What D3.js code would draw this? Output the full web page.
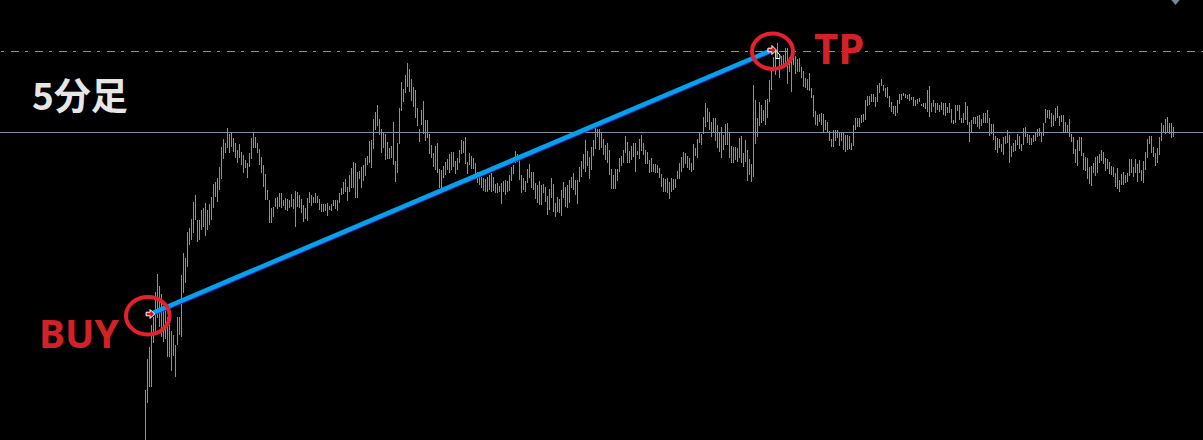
<!DOCTYPE html>
<html>
<head>
<meta charset="utf-8">
<script src="https://cdn.jsdelivr.net/npm/d3@7/dist/d3.min.js"></script>
<style>
  html, body { margin: 0; padding: 0; background: #000; }
  svg { display: block; }
</style>
</head>
<body>
<svg id="chart" width="1203" height="440"></svg>
<script>
// ---- DATA (price in points) ----
const high = [
  // segment 1
  50,81,93,115,123,148,166,154,146,132, 131,123,115,109,105,95,123,123,165,187,
  182,208,212,221,238,245,220,220,230,232, 237,230,236,243,256,258,262,273,293,301,
  297,312,306,307,302,297,290,296,288,285, 280,277,287,302,307,303,297,291,283,275,
  266,250,240,232,233,242,243,247,247,240, 242,241,240,246,241,249,248,245,241,235,
  232,242,248,245,243,247,
  // segment 2
  244,241,236,236,236,237,234,236,240,240, 240,247,252,258,261,253,265,272,278,277,
  268,269,273,275,282,284,299,300,321,328, 335,321,311,308,306,298,292,294,318,279,
  297,332,358,351,365,377,371,361,353,350, 332,311,330,339,320,320,306,295,287,294,
  297,271,270,274,278,281,286,288,288,279, 282,290,300,299,303,278,287,284,282,277,
  268,268,263,262,261,263,
  // segment 3
  265,267,263,256,257,254,257,259,260,259, 265,273,275,289,286,283,265,262,259,271,
  276,268,268,257,255,259,255,256,253,244, 251,262,256,237,243,241,250,258,253,255,
  260,263,267,260,260,273,279,286,300,289, 283,293,300,312,311,311,307,301,295,297,
  290,271,265,271,271,282,284,290,304,298, 289,294,297,297,289,301,305,297,290,288,
  280,282,276,276,275,272,
  // segment 4
  266,262,261,262,258,262,261,261,269,277, 283,288,287,284,282,277,296,292,301,308,
  306,323,337,332,328,318,322,322,315,308, 313,305,316,317,308,294,293,293,292,302,
  304,287,300,290,281,276,355,340,322,338, 335,330,340,341,360,372,383,390,397,381,
  384,385,392,392,383,380,385,384,381,382, 373,369,362,361,367,352,345,329,325,326,
  327,326,320,318,309,301,
  // segment 5
  310,310,310,307,307,307,305,305,304,297, 315,322,322,322,325,326,340,344,344,346,
  346,343,355,357,361,355,352,353,344,338, 334,334,340,346,346,347,346,345,346,343,
  343,340,341,342,336,337,337,350,354,337, 340,337,337,335,338,337,337,333,337,331,
  320,335,335,335,322,327,338,334,318,320, 323,323,324,325,321,327,327,330,322,316,
  316,304,302,301,296,303,
  // segment 6
  304,310,305,294,297,300,306,304,296,312, 313,306,305,302,305,308,311,312,307,317,
  331,330,330,327,325,332,334,324,325,325, 318,315,321,306,303,291,300,303,303,287,
  283,282,273,274,277,283,284,286,290,288, 282,281,278,274,273,267,272,260,266,268,
  265,267,281,281,273,281,276,280,270,279, 288,301,304,304,293,287,292,303,317,315,
  321,323,317,317,313
];
const low = [
  // segment 1
  -10,37,53,53,97,107,122,113,103,98, 101,83,83,69,84,63,95,105,103,147,
  157,173,195,200,207,220,198,200,210,213, 204,210,215,220,232,243,238,250,261,281,
  287,292,287,293,288,282,277,282,275,267, 272,262,273,281,292,292,287,275,267,253,
  240,240,217,217,223,233,231,233,232,234, 230,229,232,233,231,213,233,232,227,218,
  221,219,237,234,237,237,
  // segment 2
  237,230,228,228,229,224,230,229,234,231, 229,237,245,246,248,239,248,252,252,242,
  242,261,252,259,264,275,277,272,291,310, 314,305,287,292,280,281,281,282,275,258,
  267,296,329,338,347,353,348,339,333,322, 314,298,315,306,299,302,286,282,273,270,
  267,252,252,262,265,270,267,270,273,266, 270,277,286,287,276,266,275,271,271,263,
  257,255,252,249,248,248,
  // segment 3
  250,248,249,247,247,248,236,248,245,248, 249,259,266,277,278,260,247,250,248,257,
  262,252,250,241,237,235,235,247,238,225, 230,242,228,223,228,227,224,242,233,232,
  237,252,250,245,236,258,263,271,268,274, 261,270,284,291,303,290,292,285,280,277,
  265,251,251,251,259,268,274,277,287,277, 277,280,283,268,285,281,289,285,276,276,
  267,268,268,267,267,262,
  // segment 4
  253,248,248,247,241,248,250,252,261,261, 268,272,276,272,270,268,270,284,282,297,
  295,306,313,318,310,303,308,299,292,288, 282,290,295,295,282,277,277,280,278,282,
  277,273,278,259,265,258,263,296,303,314, 317,319,315,322,338,350,369,365,382,362,
  372,375,377,356,368,348,375,366,368,368, 362,353,352,350,349,342,323,315,314,318,
  315,308,310,307,299,293,
  // segment 5
  293,299,302,294,299,290,288,290,291,290, 294,310,313,313,317,318,320,334,335,338,
  338,333,338,347,354,349,343,342,333,328, 326,324,327,336,340,344,342,341,339,340,
  334,334,336,338,334,333,331,328,323,328, 333,327,330,328,330,325,324,327,327,317,
  316,317,329,320,317,317,320,315,298,308, 316,316,313,311,314,317,317,317,304,306,
  300,290,287,292,288,285,
  // segment 6
  296,297,277,283,288,289,295,291,289,295, 303,297,295,295,298,299,303,304,298,304,
  317,322,321,313,314,319,322,314,318,307, 307,307,303,298,286,277,274,289,284,270,
  269,261,256,254,267,264,267,277,279,276, 269,271,266,265,263,253,251,248,255,255,
  257,258,264,267,263,267,258,267,259,257, 270,282,296,287,283,274,277,285,299,307,
  306,307,306,302,303
];
const tpLevel = 389;      // dashed take-profit level
const refLevel = 308;     // solid horizontal line
const tradeIndex = [2.4, 313.3];   // BUY bar, TP bar
const tradePrice = [126, 390];
const tradeLabels = ["BUY", "TP"];
const title = "5分足";

// ---- SCALES ----
const W = 1203, H = 440;
const svg = d3.select("#chart");
const x = d3.scaleLinear().domain([0, high.length - 1]).range([145.3, 1173.3]);
const y = d3.scaleLinear().domain([0, 440]).range([440, 0]);

const bars = high.map((h, i) => ({ i, h, l: low[i] }));

// solid reference line
svg.append("line")
  .attr("x1", 0).attr("x2", W)
  .attr("y1", Math.round(y(refLevel)) + 0.5).attr("y2", Math.round(y(refLevel)) + 0.5)
  .attr("stroke", "#7f8fa0").attr("stroke-width", 1);

// dashed TP level
svg.append("line")
  .attr("x1", 0).attr("x2", W)
  .attr("y1", Math.round(y(tpLevel)) + 0.5).attr("y2", Math.round(y(tpLevel)) + 0.5)
  .attr("stroke", "#32cd32").attr("stroke-width", 1)
  .attr("stroke-dasharray", "8,6,3,7").attr("stroke-dashoffset", 13);

// bars
svg.append("g").selectAll("rect").data(bars).join("rect")
  .attr("x", d => Math.floor(x(d.i)))
  .attr("y", d => y(d.h))
  .attr("width", 1)
  .attr("height", d => Math.max(1, y(d.l) - y(d.h)))
  .attr("fill", "#1ee11e")
  .attr("shape-rendering", "crispEdges");

// trade line
const pts = tradeIndex.map((t, k) => [x(t), y(tradePrice[k])]);
svg.append("line")
  .attr("x1", pts[0][0]).attr("y1", pts[0][1] + 2)
  .attr("x2", pts[1][0]).attr("y2", pts[1][1] + 2)
  .attr("stroke", "#1030e0").attr("stroke-width", 2.5);
svg.append("line")
  .attr("x1", pts[0][0]).attr("y1", pts[0][1])
  .attr("x2", pts[1][0]).attr("y2", pts[1][1])
  .attr("stroke", "#08a0e8").attr("stroke-width", 4.5);

// arrows
const arrowPath = "M-4,-1.8 L0,-1.8 L0,-4.5 L4.5,0 L0,4.5 L0,1.8 L-4,1.8 Z";
pts.forEach(p => {
  svg.append("path").attr("d", arrowPath)
    .attr("transform", `translate(${p[0]},${p[1]})`)
    .attr("fill", "#e01010").attr("stroke", "#fff").attr("stroke-width", 1);
});
// close marker near TP
svg.append("path")
  .attr("d", `M${pts[1][0] + 4},${pts[1][1] + 0.5} L${pts[1][0] + 8},${pts[1][1] + 5} L${pts[1][0] + 8},${pts[1][1] + 8.5} L${pts[1][0] + 4},${pts[1][1] + 8.5} Z`)
  .attr("fill", "none").attr("stroke", "#fff").attr("stroke-width", 1);

// circles
const circleOff = [[-2.3, 1.8, 21.8, 18.8], [0.6, 1.3, 20.5, 17.7]];
pts.forEach((p, k) => {
  svg.append("ellipse")
    .attr("cx", p[0] + circleOff[k][0]).attr("cy", p[1] + circleOff[k][1])
    .attr("rx", circleOff[k][2]).attr("ry", circleOff[k][3])
    .attr("fill", "none").attr("stroke", "#e5222b").attr("stroke-width", 4);
});

// labels
svg.append("text").text(tradeLabels[0])
  .attr("x", 39).attr("y", 348)
  .attr("font-family", "'Noto Sans', 'Noto Sans CJK JP', sans-serif")
  .attr("font-weight", "bold").attr("font-size", 39)
  .attr("fill", "#d42027");
svg.append("text").text(tradeLabels[1])
  .attr("x", 814).attr("y", 64)
  .attr("font-family", "'Noto Sans', 'Noto Sans CJK JP', sans-serif")
  .attr("font-weight", "bold").attr("font-size", 42)
  .attr("fill", "#d42027");

// title
svg.append("text").text(title)
  .attr("x", 32).attr("y", 110)
  .attr("font-family", "'Noto Sans CJK JP', sans-serif")
  .attr("font-weight", "bold").attr("font-size", 37)
  .attr("fill", "#e6e6e6");

// top-right marker
svg.append("path")
  .attr("d", "M1170.5,-1 L1180.5,-1 L1175.5,5 Z")
  .attr("fill", "#778899");
</script>
</body>
</html>
